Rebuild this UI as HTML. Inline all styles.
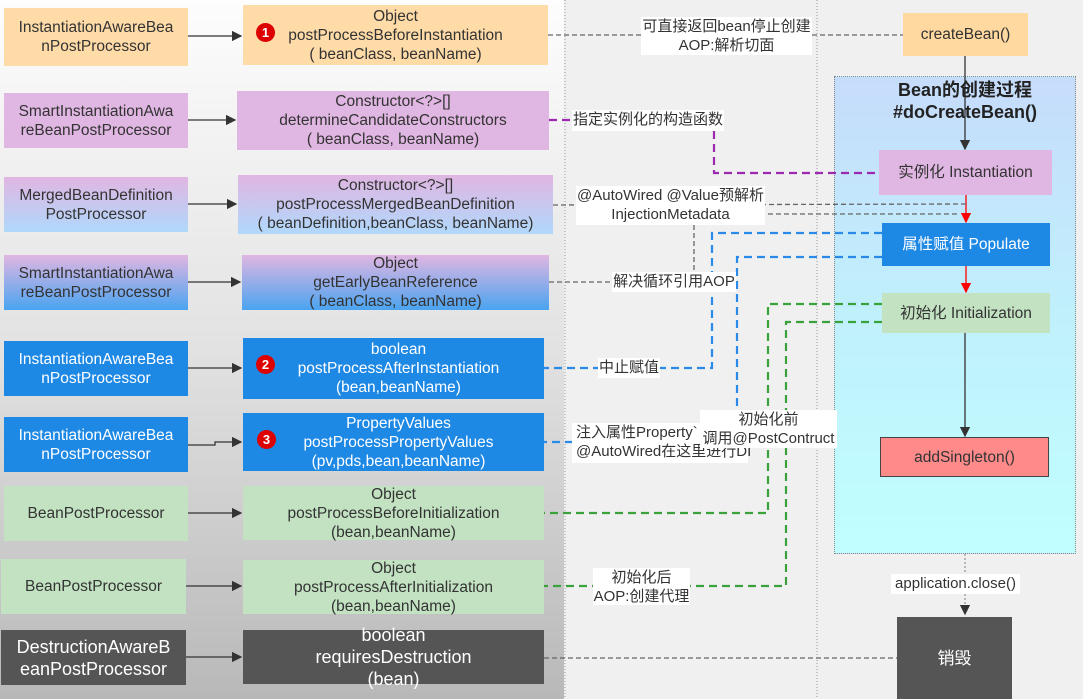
<!DOCTYPE html>
<html><head><meta charset="utf-8"><style>
*{margin:0;padding:0;box-sizing:border-box}
body{width:1083px;height:699px;overflow:hidden;background:#f0f0f0;position:relative;font-family:"Liberation Sans","Noto Sans CJK SC",sans-serif;color:#333}
.b{position:absolute;display:flex;align-items:center;justify-content:center;text-align:center;font-size:15.5px;line-height:19px;white-space:nowrap}
.l{position:absolute;background:#fff;font-size:15px;line-height:19px;text-align:center;color:#333;white-space:nowrap;font-family:"Liberation Sans","Noto Sans CJK SC",sans-serif}
.or{background:#ffdba8}.pu{background:#e0b6e2}.bl{background:#1e88e5;color:#fff}.gr{background:#c2e2c2}.dk{background:#555;color:#fff}
.num{position:absolute;width:19px;height:19px;border-radius:50%;background:#d00;color:#fff;font-size:13px;font-weight:bold;display:flex;align-items:center;justify-content:center}
</style></head><body>
<div style="position:absolute;left:0;top:0;width:564px;height:699px;background:linear-gradient(#fdfdfd,#e2e2e2 50%,#b8b8b8)"></div>
<div style="position:absolute;left:834px;top:76px;width:242px;height:478px;background:linear-gradient(#c6dcfb,#c0f0fc 50%,#c0ffff);border:1.5px dotted #888"></div>
<svg width="1083" height="699" style="position:absolute;left:0;top:0">
<defs><marker id="a" markerWidth="8" markerHeight="8" refX="7" refY="4" orient="auto"><path d="M0,0L8,4L0,8z" fill="#333"/></marker>
<marker id="r" markerWidth="8" markerHeight="8" refX="7" refY="4" orient="auto"><path d="M0,0L8,4L0,8z" fill="#f00"/></marker></defs>
<line x1="565" y1="0" x2="565" y2="699" stroke="#999" stroke-dasharray="1,2"/>
<line x1="817" y1="0" x2="817" y2="699" stroke="#999" stroke-dasharray="1,2"/>
<g stroke="#333" stroke-width="1.3" fill="none" marker-end="url(#a)">
<line x1="188" y1="36" x2="241" y2="36"/><line x1="188" y1="120" x2="235" y2="120"/>
<line x1="188" y1="204" x2="236" y2="204"/><line x1="188" y1="282" x2="240" y2="282"/>
<line x1="188" y1="368" x2="241" y2="368"/><path d="M188,445H215V442H241"/>
<line x1="188" y1="513" x2="241" y2="513"/><line x1="186" y1="586" x2="241" y2="586"/>
<line x1="186" y1="657" x2="241" y2="657"/>
<line x1="965" y1="56" x2="965" y2="149"/><line x1="965" y1="333" x2="965" y2="436"/>
</g>
<g stroke="#f00" stroke-width="1.3" marker-end="url(#r)"><line x1="966" y1="195" x2="966" y2="222"/><line x1="966" y1="266" x2="966" y2="292"/></g>
<g stroke="#666" stroke-width="1.3" fill="none" stroke-dasharray="5,3">
<line x1="548" y1="35" x2="903" y2="35"/>
<line x1="553" y1="205" x2="966" y2="204"/><line x1="760" y1="214" x2="960" y2="214"/>
<line x1="694" y1="225" x2="694" y2="283"/>
<line x1="549" y1="282" x2="615" y2="282"/>
<line x1="544" y1="658" x2="897" y2="658"/>
</g>
<line x1="965" y1="554" x2="965" y2="614" stroke="#999" stroke-width="1.3" stroke-dasharray="2,2" marker-end="url(#a)"/>
<path d="M549,120H575M714,131V173H879" stroke="#9b2ab0" stroke-width="2.2" fill="none" stroke-dasharray="8,5"/>
<g stroke="#2a8ae8" stroke-width="2.2" fill="none" stroke-dasharray="8,5">
<path d="M882,233H712V368H544"/><path d="M882,257H737V442H544"/>
</g>
<g stroke="#3aa23a" stroke-width="2.2" fill="none" stroke-dasharray="8,5">
<path d="M882,304H768V513H544"/><path d="M882,322H786V586H544"/>
</g>
</svg>
<div class="b or" style="left:4px;top:8px;width:184px;height:58px">InstantiationAwareBea<br>nPostProcessor</div>
<div class="b or" style="left:243px;top:5px;width:305px;height:60px">Object<br>postProcessBeforeInstantiation<br>( beanClass, beanName)</div>
<div class="num" style="left:256px;top:23px">1</div>
<div class="b pu" style="left:4px;top:93px;width:184px;height:55px">SmartInstantiationAwa<br>reBeanPostProcessor</div>
<div class="b pu" style="left:237px;top:91px;width:312px;height:59px">Constructor&lt;?&gt;[]<br>determineCandidateConstructors<br>( beanClass, beanName)</div>
<div class="b" style="left:4px;top:177px;width:184px;height:55px;background:linear-gradient(#e0b6e2,#b0d8fb)">MergedBeanDefinition<br>PostProcessor</div>
<div class="b" style="left:238px;top:175px;width:315px;height:59px;background:linear-gradient(#e0b6e2,#b0d8fb)">Constructor&lt;?&gt;[]<br>postProcessMergedBeanDefinition<br>( beanDefinition,beanClass, beanName)</div>
<div class="b" style="left:4px;top:255px;width:184px;height:55px;background:linear-gradient(#e0b6e2,#4aa4f0)">SmartInstantiationAwa<br>reBeanPostProcessor</div>
<div class="b" style="left:242px;top:255px;width:307px;height:55px;background:linear-gradient(#e0b6e2,#4aa4f0)">Object<br>getEarlyBeanReference<br>( beanClass, beanName)</div>
<div class="b bl" style="left:4px;top:341px;width:184px;height:55px">InstantiationAwareBea<br>nPostProcessor</div>
<div class="b bl" style="left:243px;top:338px;width:301px;height:61px;padding-left:10px">boolean<br>postProcessAfterInstantiation<br>(bean,beanName)</div>
<div class="num" style="left:256px;top:355px">2</div>
<div class="b bl" style="left:4px;top:417px;width:184px;height:55px">InstantiationAwareBea<br>nPostProcessor</div>
<div class="b bl" style="left:243px;top:413px;width:301px;height:58px;padding-left:10px">PropertyValues<br>postProcessPropertyValues<br>(pv,pds,bean,beanName)</div>
<div class="num" style="left:257px;top:430px">3</div>
<div class="b gr" style="left:4px;top:486px;width:184px;height:55px">BeanPostProcessor</div>
<div class="b gr" style="left:243px;top:486px;width:301px;height:54px">Object<br>postProcessBeforeInitialization<br>(bean,beanName)</div>
<div class="b gr" style="left:1px;top:559px;width:185px;height:55px">BeanPostProcessor</div>
<div class="b gr" style="left:243px;top:560px;width:301px;height:54px">Object<br>postProcessAfterInitialization<br>(bean,beanName)</div>
<div class="b dk" style="left:1px;top:630px;width:185px;height:55px;font-size:18px;line-height:22px">DestructionAwareB<br>eanPostProcessor</div>
<div class="b dk" style="left:243px;top:630px;width:301px;height:54px;font-size:18px;line-height:22px">boolean<br>requiresDestruction<br>(bean)</div>

<div class="l" style="left:641px;top:17px;width:171px;height:38px">可直接返回bean停止创建<br>AOP:解析切面</div>
<div class="l" style="left:572px;top:110px;width:152px;height:21px">指定实例化的构造函数</div>
<div class="l" style="left:576px;top:186px;width:189px;height:39px">@AutoWired @Value预解析<br>InjectionMetadata</div>
<div class="l" style="left:612px;top:272px;width:124px;height:20px">解决循环引用AOP</div>
<div class="l" style="left:598px;top:358px;width:62px;height:20px">中止赋值</div>
<div class="l" style="left:572px;top:423px;width:176px;height:40px;text-align:left;padding-left:4px">注入属性Property`<br>@AutoWired在这里进行DI</div>
<div class="l" style="left:700px;top:410px;width:137px;height:38px">初始化前<br>调用@PostContruct</div>
<div class="l" style="left:593px;top:568px;width:97px;height:37px">初始化后<br>AOP:创建代理</div>

<div class="b" style="left:903px;top:13px;width:125px;height:43px;background:#ffd9a0">createBean()</div>
<div class="b" style="left:850px;top:78px;width:230px;height:46px;font-weight:bold;font-size:18px;line-height:22px;color:#222">Bean的创建过程<br>#doCreateBean()</div>
<div class="b pu" style="left:879px;top:150px;width:173px;height:45px">实例化 Instantiation</div>
<div class="b bl" style="left:882px;top:223px;width:168px;height:43px">属性赋值 Populate</div>
<div class="b gr" style="left:882px;top:293px;width:168px;height:40px">初始化 Initialization</div>
<div class="b" style="left:880px;top:437px;width:169px;height:40px;background:#ff8a8a;border:1px solid #444">addSingleton()</div>
<div class="l" style="left:891px;top:574px;width:129px;height:20px">application.close()</div>
<div class="b dk" style="left:897px;top:617px;width:115px;height:82px;font-size:17px">销毁</div>
</body></html>
